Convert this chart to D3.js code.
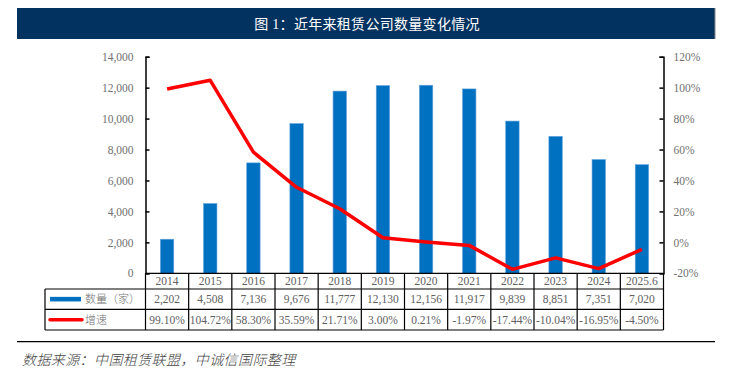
<!DOCTYPE html>
<html>
<head>
<meta charset="utf-8">
<script src="https://cdn.jsdelivr.net/npm/d3@7"></script>
<style>
  body { margin: 0; background: #fff; }
  svg { display: block; }
</style>
</head>
<body>
<svg id="chart" width="734" height="373"></svg>
<script>
// data
const years = ['2014', '2015', '2016', '2017', '2018', '2019', '2020', '2021', '2022', '2023', '2024', '2025.6'];
const counts = [2202, 4508, 7136, 9676, 11777, 12130, 12156, 11917, 9839, 8851, 7351, 7020];
const growth = [99.10, 104.72, 58.30, 35.59, 21.71, 3.00, 0.21, -1.97, -17.44, -10.04, -16.95, -4.50];
const leftTicks = [0, 2000, 4000, 6000, 8000, 10000, 12000, 14000];
const rightTicks = [-20, 0, 20, 40, 60, 80, 100, 120];
const seriesNames = ['数量（家）', '增速'];

const svg = d3.select('#chart');
const serif = '"Times New Roman", "Liberation Serif", serif';
const cjk = '"Noto Sans CJK SC", sans-serif';
const grey = '#606060';

const plot = { left: 145.5, right: 663.5, top: 56.7, bottom: 273.3 };

// title bar
svg.append('rect')
    .attr('x', 17).attr('y', 8).attr('width', 698).attr('height', 31)
    .attr('fill', '#02325f');
svg.append('line')
    .attr('x1', 715).attr('x2', 715).attr('y1', 8).attr('y2', 39)
    .attr('stroke', '#888').attr('stroke-width', 1);
svg.append('text')
    .attr('x', 367).attr('y', 29)
    .attr('text-anchor', 'middle')
    .attr('fill', '#fff')
    .style('font-family', '"Liberation Serif", "Noto Sans CJK SC", serif')
    .style('font-size', '14px')
    .style('letter-spacing', '0.3px')
    .text('图 1：近年来租赁公司数量变化情况');

// scales
const x = d3.scaleBand().domain(years).range([plot.left, plot.right]);
const yL = d3.scaleLinear().domain([0, 14000]).range([plot.bottom, plot.top]);
const yR = d3.scaleLinear().domain([-20, 120]).range([plot.bottom, plot.top]);
const barW = x.bandwidth() * 0.31;

// bars
svg.append('g').selectAll('rect').data(counts)
    .join('rect')
    .attr('x', (d, i) => x(years[i]) + (x.bandwidth() - barW) / 2)
    .attr('y', d => yL(d))
    .attr('width', barW)
    .attr('height', d => plot.bottom - yL(d))
    .attr('fill', '#0070c0')
    .attr('stroke', '#5fa2dd')
    .attr('stroke-width', 0.6);

// growth line
const line = d3.line()
    .x((d, i) => x(years[i]) + x.bandwidth() / 2)
    .y(d => yR(d));
svg.append('path')
    .datum(growth)
    .attr('d', line)
    .attr('fill', 'none')
    .attr('stroke', '#ff0000')
    .attr('stroke-width', 3.5)
    .attr('stroke-linejoin', 'round');

// axes
const leftAxis = svg.append('g')
    .attr('transform', `translate(${plot.left},0)`)
    .call(d3.axisLeft(yL).tickValues(leftTicks).tickSize(-4).tickPadding(12).tickFormat(d3.format(',')));
const rightAxis = svg.append('g')
    .attr('transform', `translate(${plot.right},0)`)
    .call(d3.axisRight(yR).tickValues(rightTicks).tickSize(-4).tickPadding(10).tickFormat(d => d + '%'));
[leftAxis, rightAxis].forEach(a => {
    a.select('.domain').attr('stroke', '#000').attr('stroke-width', 1.5);
    a.selectAll('.tick line').attr('stroke', '#000').attr('stroke-width', 1.5);
    a.selectAll('.tick text')
        .attr('fill', '#707070')
        .style('font-family', serif)
        .style('font-size', '11.5px');
});

// data table under the plot
const rows = [plot.bottom, 289, 309.3, 330];
const tableLeft = 45;
const table = svg.append('g').attr('stroke', '#000').attr('stroke-width', 1.2);
// horizontal rules
table.append('line').attr('x1', plot.left).attr('x2', plot.right).attr('y1', rows[0]).attr('y2', rows[0]);
[1, 2, 3].forEach(r => {
    table.append('line').attr('x1', tableLeft).attr('x2', plot.right).attr('y1', rows[r]).attr('y2', rows[r]);
});
// vertical rules
table.append('line').attr('x1', tableLeft).attr('x2', tableLeft).attr('y1', rows[1]).attr('y2', rows[3]);
years.concat(['end']).forEach((y, i) => {
    const xx = i < years.length ? x(y) : plot.right;
    table.append('line').attr('x1', xx).attr('x2', xx).attr('y1', rows[0]).attr('y2', rows[3]);
});

const cellText = [years, counts.map(d3.format(',')), growth.map(d => d.toFixed(2) + '%')];
cellText.forEach((vals, r) => {
    svg.append('g').selectAll('text').data(vals)
        .join('text')
        .attr('x', (d, i) => x(years[i]) + x.bandwidth() / 2)
        .attr('y', (rows[r] + rows[r + 1]) / 2 + 4)
        .attr('text-anchor', 'middle')
        .attr('fill', grey)
        .style('font-family', serif)
        .style('font-size', '11.5px')
        .text(d => d);
});

// legend keys inside the table
svg.append('rect')
    .attr('x', 50).attr('y', (rows[1] + rows[2]) / 2 - 2.3)
    .attr('width', 31).attr('height', 4.6)
    .attr('fill', '#0070c0');
svg.append('line')
    .attr('x1', 50).attr('x2', 82)
    .attr('y1', (rows[2] + rows[3]) / 2).attr('y2', (rows[2] + rows[3]) / 2)
    .attr('stroke', '#ff0000').attr('stroke-width', 3.5).attr('stroke-linecap', 'round');
seriesNames.forEach((name, r) => {
    svg.append('text')
        .attr('x', 85)
        .attr('y', (rows[r + 1] + rows[r + 2]) / 2 + 4)
        .attr('fill', '#707070')
        .style('font-family', cjk)
        .style('font-size', '11px')
        .style('font-weight', 300)
        .text(name);
});

// bottom rule and source
svg.append('line')
    .attr('x1', 17).attr('x2', 715).attr('y1', 341.7).attr('y2', 341.7)
    .attr('stroke', '#000').attr('stroke-width', 1.2);
svg.append('text')
    .attr('x', 22).attr('y', 365)
    .attr('fill', '#444')
    .style('font-family', cjk)
    .style('font-size', '14px')
    .style('font-weight', 300)
    .style('font-style', 'italic')
    .style('letter-spacing', '0.4px')
    .text('数据来源：中国租赁联盟，中诚信国际整理');
</script>
</body>
</html>
